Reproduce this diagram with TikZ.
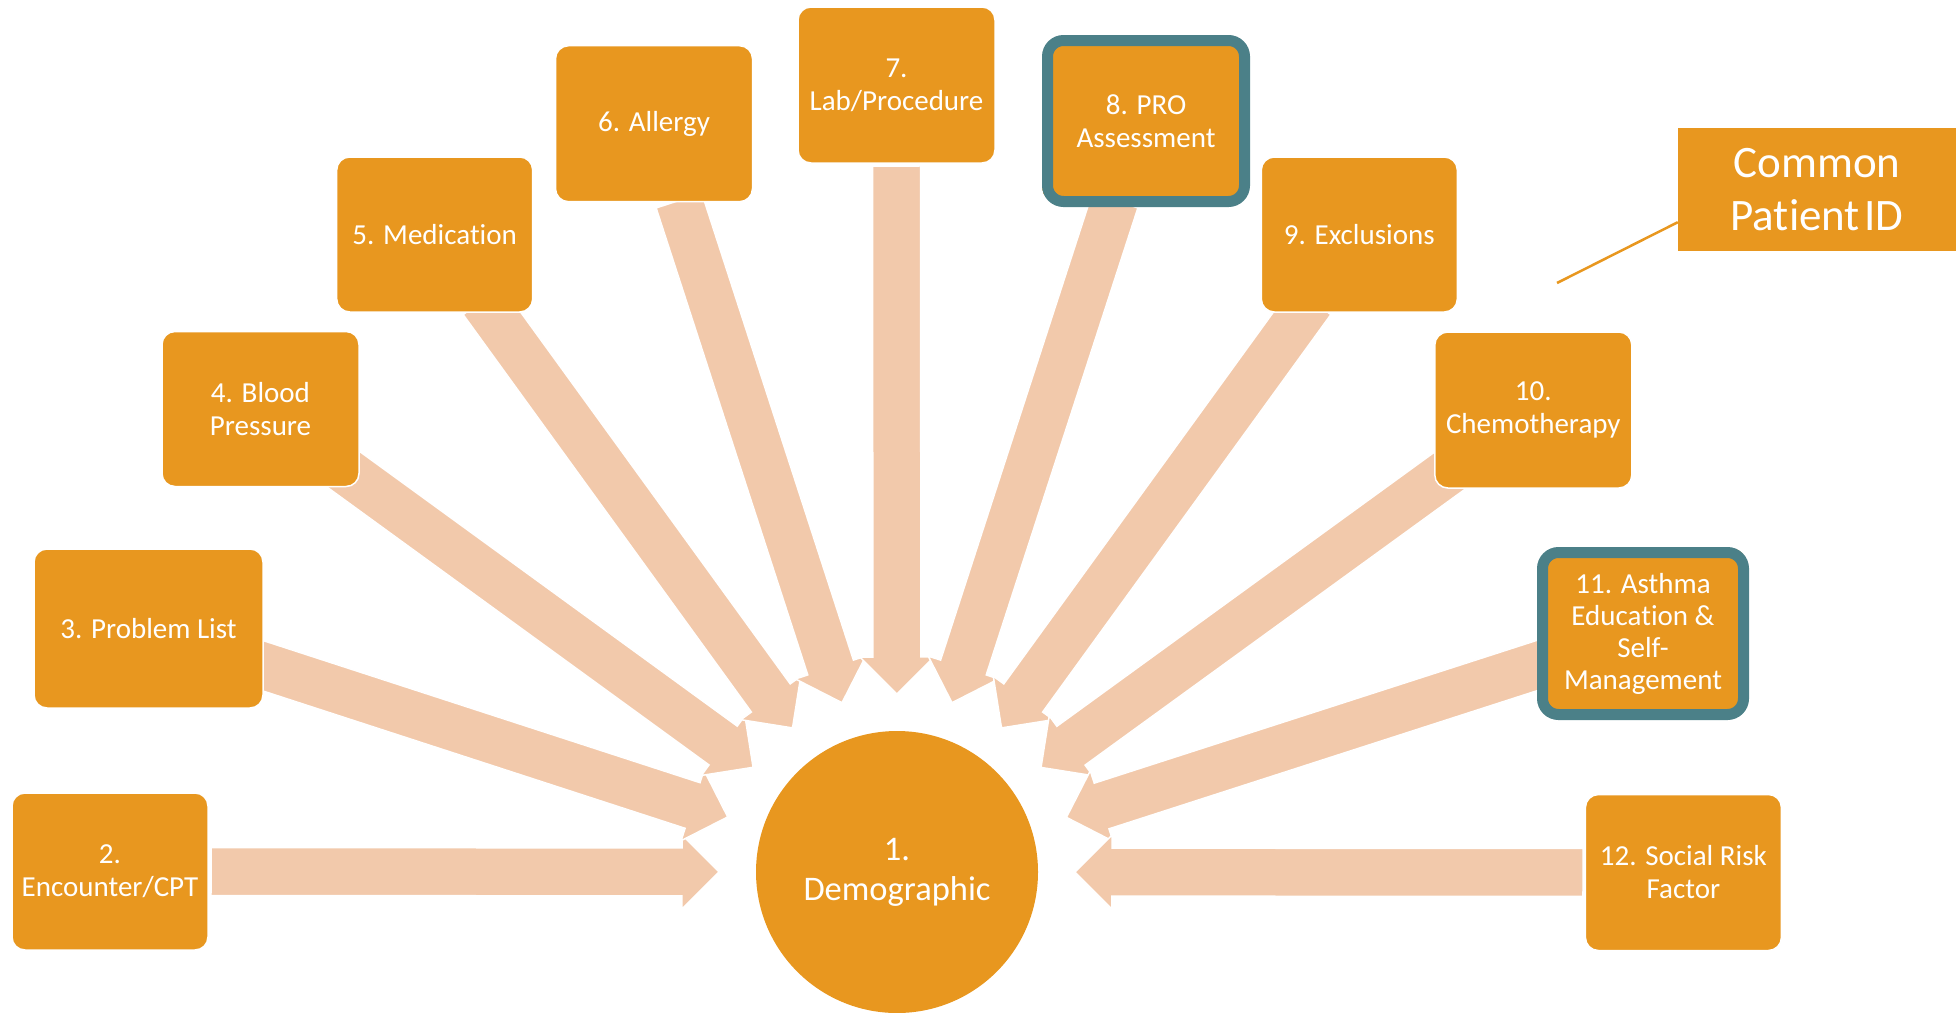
\documentclass[tikz,border=0pt]{standalone}
\usepackage{fontspec}
\setmainfont{Carlito}[Ligatures={NoCommon}]
\usetikzlibrary{calc,backgrounds}
\definecolor{boxor}{HTML}{E8971F}
\definecolor{peach}{HTML}{F2C9AB}
\definecolor{tealb}{HTML}{4B8088}
\tikzset{
 box/.style={rectangle, rounded corners=13pt, fill=boxor, draw=white, line width=1.5pt, text=white, align=center, font=\fontsize{29}{33}\selectfont, inner sep=0pt},
 framebox/.style={box, draw=tealb, line width=11pt, rounded corners=16pt},
 blockarr/.style={fill=peach, draw=white, line width=1.5pt, line join=miter},
}
\newcommand\blockarrow[2]{%
 \coordinate (ht) at ($(c)!178pt!(#1)$);
 \coordinate (hb) at ($(c)!215pt!(#1)$);
 \coordinate (tl) at ($(c)!#2!(#1)$);
 \filldraw[blockarr] (ht) -- ($(hb)!37pt!90:(c)$) -- ($(hb)!24pt!90:(c)$) -- ($(tl)!24pt!90:(c)$) -- ($(tl)!24pt!-90:(c)$) -- ($(hb)!24pt!-90:(c)$) -- ($(hb)!37pt!-90:(c)$) -- cycle;
}
\begin{document}
\begin{tikzpicture}[x=1pt,y=-1pt]
\useasboundingbox (0,0) rectangle (1956,1012);
\node[circle, fill=boxor, minimum size=282pt, inner sep=0pt, text=white, align=center, font=\fontsize{34.5}{40}\selectfont] (c) at (897,872) {1.\\Demographic};
\node[box, minimum width=196pt, minimum height=157pt] (b2) at (110,871.5) {2.\\Encounter/CPT};
\node[box, minimum width=229pt, minimum height=159pt] (b3) at (148.5,628.5) {3. Problem List};
\node[box, minimum width=197pt, minimum height=155pt] (b4) at (260.5,409) {4. Blood\\Pressure};
\node[box, minimum width=196pt, minimum height=155pt] (b5) at (434.7,234.5) {5. Medication};
\node[box, minimum width=197pt, minimum height=156pt] (b6) at (654,123.7) {6. Allergy};
\node[box, minimum width=197pt, minimum height=156pt] (b7) at (896.5,85) {7.\\Lab/Procedure};
\node[box, minimum width=197pt, minimum height=156pt] (u8) at (1140,123.7) {};
\node[framebox, minimum width=197pt, minimum height=161pt] (b8) at (1146,121) {8. PRO\\Assessment};
\node[box, minimum width=196pt, minimum height=155pt] (b9) at (1359.3,234.5) {9. Exclusions};
\node[box, minimum width=197pt, minimum height=156pt] (b10) at (1533.3,410) {10.\\Chemotherapy};
\node[box, minimum width=198pt, minimum height=164pt] (u11) at (1647,630) {};
\node[framebox, minimum width=201pt, minimum height=162pt, font=\fontsize{29}{32}\selectfont] (b11) at (1643,633.5) {11. Asthma\\Education \&\\Self-\\Management};
\node[box, minimum width=196pt, minimum height=156pt] (b12) at (1683.4,872.5) {12. Social Risk\\Factor};
\node[rectangle, fill=boxor, text=white, minimum width=278pt, minimum height=123pt, inner sep=0pt, align=center, font=\fontsize{45}{53}\selectfont] (cp) at (1817,189.5) {Common\\Patient\hspace{0.1em}ID};
\coordinate (lend) at (1557,283);
\draw[boxor, line width=2.5pt] (lend) -- ($(cp.south west)+(0,-29)$);
\begin{pgfonlayer}{background}
\blockarrow{b2}{686pt}
\blockarrow{b3}{706pt}
\blockarrow{b4}{706pt}
\blockarrow{b5}{706pt}
\blockarrow{b6}{706pt}
\blockarrow{b7}{706pt}
\blockarrow{u8}{706pt}
\blockarrow{b9}{706pt}
\blockarrow{b10}{706pt}
\blockarrow{u11}{706pt}
\blockarrow{b12}{686pt}
\end{pgfonlayer}
\end{tikzpicture}
\end{document}
